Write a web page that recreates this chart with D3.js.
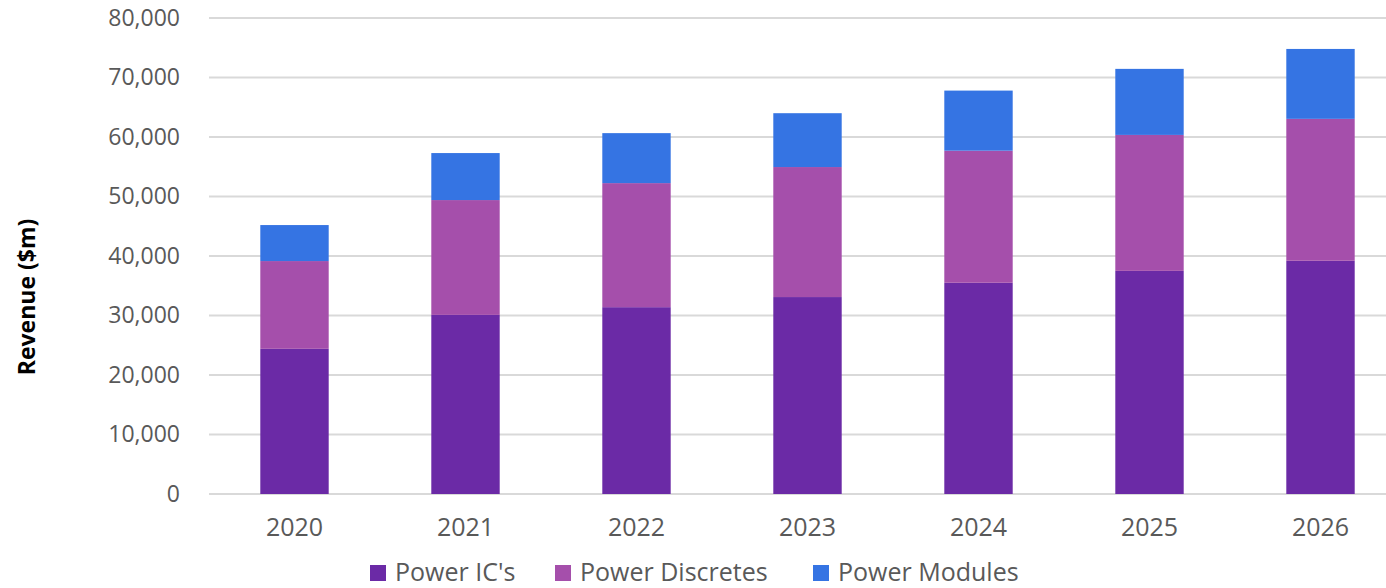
<!DOCTYPE html>
<html>
<head>
<meta charset="utf-8">
<script src="https://cdn.jsdelivr.net/npm/d3@7"></script>
<style>
  body { margin: 0; background: #fff; }
  svg { display: block; font-family: "Open Sans", sans-serif; }
</style>
</head>
<body>
<svg id="chart" width="1386" height="588"></svg>
<script>
// values ($m)
const years = ["2020", "2021", "2022", "2023", "2024", "2025", "2026"];
const power_ics = [24400, 30100, 31400, 33100, 35500, 37500, 39200];
const power_discretes = [14750, 19300, 20850, 21850, 22200, 22850, 23850];
const power_modules = [6050, 7900, 8400, 9050, 10100, 11100, 11750];
const series_names = ["Power IC's", "Power Discretes", "Power Modules"];
const y_ticks = [0, 10000, 20000, 30000, 40000, 50000, 60000, 70000, 80000];

const colors = ["#6b2aa6", "#a54fab", "#3574e3"];

let svg = d3.select("#chart");

let rows = years.map((y, i) => ({
  year: y,
  "Power IC's": power_ics[i],
  "Power Discretes": power_discretes[i],
  "Power Modules": power_modules[i]
}));

let stacked = d3.stack().keys(series_names)(rows);

let x = d3.scaleBand()
  .domain(years)
  .range([209, 1406])
  .paddingInner(0.6)
  .paddingOuter(0.3);

let y = d3.scaleLinear()
  .domain([0, 80000])
  .range([494, 18]);

// gridlines
svg.append("g")
  .selectAll("line")
  .data(y_ticks).enter()
  .append("line")
  .attr("x1", 209)
  .attr("x2", 1386)
  .attr("y1", d => y(d))
  .attr("y2", d => y(d))
  .attr("stroke", "#d9d9d9")
  .attr("stroke-width", 2);

// y axis labels
let y_axis = svg.append("g")
  .attr("transform", "translate(180,0)")
  .call(d3.axisLeft(y).tickValues(y_ticks).tickFormat(d3.format(",")).tickSize(0).tickPadding(0));
y_axis.select(".domain").remove();
y_axis.selectAll("text")
  .attr("fill", "#595959")
  .style("font-size", "23px")
  .style("font-family", "'Open Sans', sans-serif");

// bars
svg.append("g")
  .selectAll("g")
  .data(stacked).enter()
  .append("g")
  .attr("fill", (d, i) => colors[i])
  .selectAll("rect")
  .data(d => d).enter()
  .append("rect")
  .attr("x", d => x(d.data.year))
  .attr("width", x.bandwidth())
  .attr("y", d => y(d[1]))
  .attr("height", d => y(d[0]) - y(d[1]));

// x axis labels
let x_axis = svg.append("g")
  .attr("transform", "translate(0,494)")
  .call(d3.axisBottom(x).tickSize(0).tickPadding(24));
x_axis.select(".domain").remove();
x_axis.selectAll("text")
  .attr("fill", "#595959")
  .style("font-size", "25px")
  .style("font-family", "'Open Sans', sans-serif");

// axis title
svg.append("text")
  .attr("transform", "translate(35,297) rotate(-90)")
  .attr("text-anchor", "middle")
  .attr("font-size", 23)
  .attr("font-weight", "bold")
  .attr("fill", "#000")
  .text("Revenue ($m)");

// legend
let legend_x = [370, 555, 813];
let legend = svg.append("g")
  .selectAll("g")
  .data(series_names).enter()
  .append("g")
  .attr("transform", (d, i) => `translate(${legend_x[i]},0)`);
legend.append("rect")
  .attr("y", 565)
  .attr("width", 16)
  .attr("height", 16)
  .attr("fill", (d, i) => colors[i]);
legend.append("text")
  .attr("x", 25)
  .attr("y", 581)
  .attr("font-size", 25)
  .attr("fill", "#595959")
  .text(d => d);
</script>
</body>
</html>
